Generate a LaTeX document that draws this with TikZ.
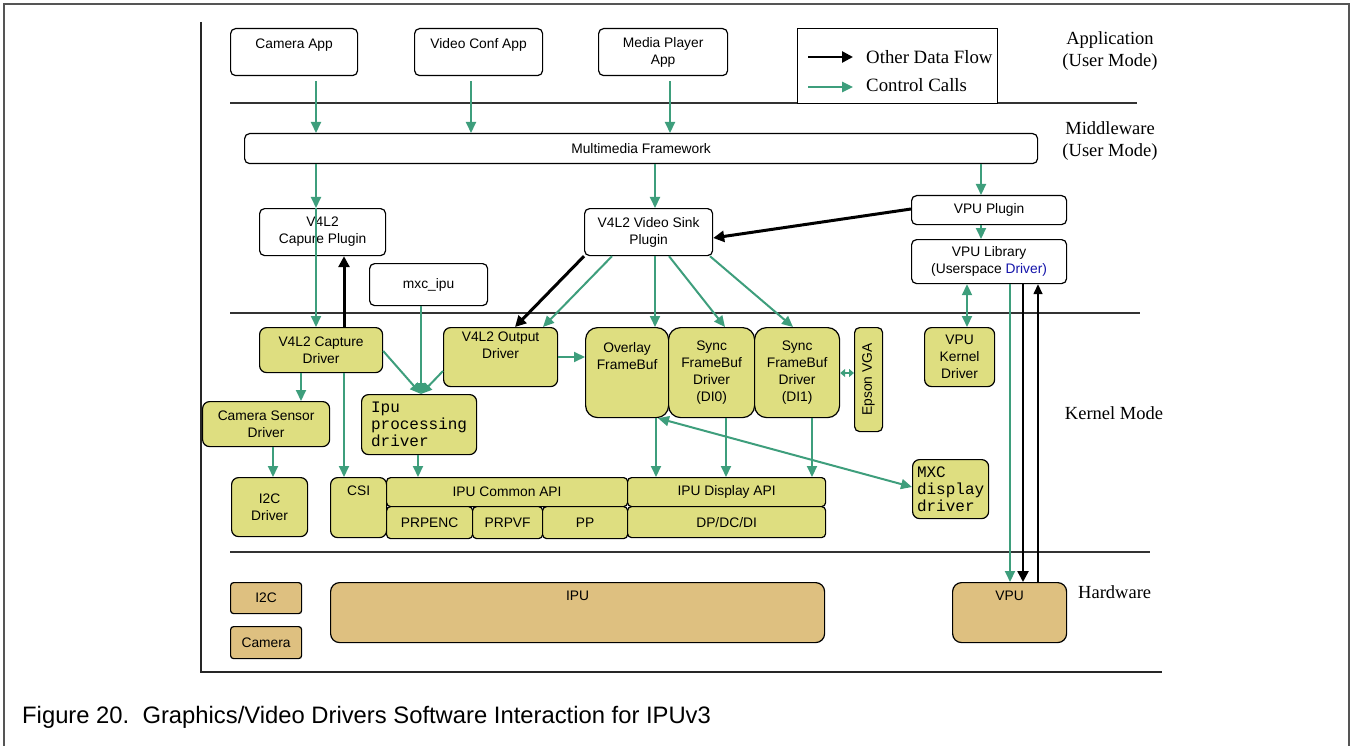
\documentclass[tikz,border=0pt]{standalone}
\usepackage{fontspec}
\usetikzlibrary{arrows.meta,calc}
\newfontfamily\sansf{Liberation Sans}
\newfontfamily\serf{Liberation Serif}
\newfontfamily\monof{Liberation Mono}
\definecolor{kyellow}{RGB}{222,222,128}
\definecolor{ktan}{RGB}{222,192,128}
\definecolor{kgreen}{RGB}{62,158,124}
\definecolor{kframe}{RGB}{85,85,85}
\definecolor{drvblue}{RGB}{20,20,170}
\tikzset{
  wbox/.style={draw=black,line width=1.2pt,fill=white,rounded corners=5pt,align=center,inner sep=0pt,
    font=\sansf\fontsize{13.8}{17}\selectfont},
  ybox/.style={wbox,fill=kyellow,rounded corners=7pt},
  bigy/.style={ybox,rounded corners=12pt},
  tbox/.style={wbox,fill=ktan,rounded corners=6pt},
  monotext/.style={font=\monof\fontsize{16}{17}\selectfont,align=left},
  garrow/.style={draw=kgreen,line width=2pt,-{Triangle[length=11pt,width=10pt]}},
  gdouble/.style={draw=kgreen,line width=2pt,{Triangle[length=11pt,width=10pt]}-{Triangle[length=11pt,width=10pt]}},
  barrow/.style={draw=black,line width=3pt,-{Triangle[length=11pt,width=11pt]}},
  sepline/.style={draw=black!80,line width=1.5pt},
  sidelabel/.style={font=\serf\fontsize{18.5}{22}\selectfont,align=center,inner sep=0pt},
}
\newcommand\mkbox[7]{\node[#6,anchor=north west,minimum width={(#4)-(#2)},minimum height={(#5)-(#3)}] (#1) at (#2,#3) {#7};}
\begin{document}
\begin{tikzpicture}[x=1pt,y=-1pt]
\useasboundingbox (0,0) rectangle (1351,746);
% frames
\draw[kframe,line width=2.5pt] (4,750) -- (4,4) -- (1349,4) -- (1349,750);
\draw[black!85,line width=1.5pt] (201,22) -- (201,672) -- (1162,672);
% separators
\draw[sepline] (230,103) -- (1137,103);
\draw[sepline] (230,313) -- (1140,313);
\draw[sepline] (230,552) -- (1150,552);
% side labels
\node[sidelabel] (lapp) at (1110,51) {Application\\(User Mode)};
\node[sidelabel] (lmw) at (1110,141) {Middleware\\(User Mode)};
\node[sidelabel] (lker) at (1114,413) {Kernel Mode};
\node[sidelabel,anchor=west] (lhw) at (1078,592) {Hardware};
% legend
\mkbox{legend}{797}{28}{997}{103}{wbox,rounded corners=0pt}{}
\coordinate (l1a) at (808,57); \coordinate (l1b) at (853,57);
\coordinate (l2a) at (808,87); \coordinate (l2b) at (853,87);
\draw[barrow,line width=2.5pt] (l1a) -- (l1b);
\draw[garrow,line width=2.5pt] (l2a) -- (l2b);
\node[sidelabel,anchor=west,font=\serf\fontsize{18.8}{22}\selectfont] (t1) at (866,57) {Other Data Flow};
\node[sidelabel,anchor=west,font=\serf\fontsize{18.8}{22}\selectfont] (t2) at (866,85) {Control Calls};
% applications
\mkbox{camapp}{230}{28}{357}{75}{wbox}{Camera App\\~}
\mkbox{vidapp}{414}{28}{542}{75}{wbox}{Video Conf App\\~}
\mkbox{mpapp}{598}{28}{727}{75}{wbox}{Media Player\\App}
% middleware
\mkbox{fw}{244}{133}{1037}{163}{wbox}{Multimedia Framework}
\mkbox{capplug}{259}{208}{385}{255}{wbox}{V4L2\\Capure Plugin}
\mkbox{sink}{584}{208}{712}{255}{wbox}{V4L2 Video Sink\\Plugin}
\mkbox{vpuplug}{911}{195}{1066}{224}{wbox}{VPU Plugin}
\mkbox{vpulib}{911}{239}{1066}{283}{wbox}{VPU Library\\(Userspace \textcolor{drvblue}{Driver)}}
\mkbox{mxcipu}{369}{263}{487}{305}{wbox}{mxc\_ipu}
% kernel
\mkbox{capdrv}{259}{327}{382}{372}{ybox}{V4L2 Capture\\Driver}
\mkbox{outdrv}{443}{327}{557}{386}{ybox}{V4L2 Output\\Driver\\[6pt]}
\mkbox{overlay}{585}{327}{668}{417}{bigy}{Overlay\\FrameBuf\\~\\~}
\mkbox{di0}{668}{327}{754}{417}{bigy}{Sync\\FrameBuf\\Driver\\(DI0)}
\mkbox{di1}{754}{327}{839}{417}{bigy}{Sync\\FrameBuf\\Driver\\(DI1)}
\mkbox{epson}{854}{327}{882}{431}{ybox,rounded corners=5pt}{\rotatebox{90}{Epson VGA}}
\mkbox{vpukd}{924}{327}{994}{386}{ybox}{VPU\\Kernel\\Driver}
\mkbox{camsens}{202}{401}{329}{446}{ybox}{Camera Sensor\\Driver}
\mkbox{ipuproc}{361}{394}{476}{454}{ybox,monotext}{Ipu\\processing\\driver}
\mkbox{i2cdrv}{231}{477}{307}{536}{ybox}{I2C\\Driver}
\mkbox{csi}{330}{477}{386}{537}{ybox}{CSI\\~\\~}
\mkbox{ipucom}{386}{477}{627}{506}{ybox,rounded corners=4pt}{IPU Common API}
\mkbox{prpenc}{386}{506}{472}{538}{ybox,rounded corners=4pt}{PRPENC}
\mkbox{prpvf}{472}{506}{542}{538}{ybox,rounded corners=4pt}{PRPVF}
\mkbox{pp}{542}{506}{627}{538}{ybox,rounded corners=4pt}{PP}
\mkbox{ipudisp}{627}{477}{825}{506}{ybox,rounded corners=4pt}{IPU Display API}
\mkbox{dpdcdi}{627}{506}{825}{537}{ybox,rounded corners=4pt}{DP/DC/DI}
\mkbox{mxc}{912}{459}{988}{518}{ybox,monotext}{MXC\\display\\driver}
% hardware
\mkbox{i2c}{230}{582}{301}{613}{tbox,rounded corners=3pt}{I2C}
\mkbox{camera}{230}{626}{301}{658}{tbox,rounded corners=3pt}{Camera}
\mkbox{ipu}{330}{582}{824}{642}{tbox,rounded corners=9pt}{IPU\\~\\~}
\mkbox{vpu}{952}{582}{1066}{642}{tbox,rounded corners=9pt}{VPU\\~\\~}
% green control arrows
\draw[garrow,shorten <=5pt] (camapp.south -| 316,0) -- (fw.north -| 316,0);
\draw[garrow,shorten <=5pt] (vidapp.south -| 471,0) -- (fw.north -| 471,0);
\draw[garrow,shorten <=5pt] (mpapp.south -| 670,0) -- (fw.north -| 670,0);
\draw[garrow] (fw.south -| 316,0) -- (capplug.north -| 316,0);
\draw[garrow] (fw.south -| 655,0) -- (sink.north -| 655,0);
\draw[garrow] (fw.south -| 981,0) -- (vpuplug.north -| 981,0);
\draw[garrow] (capplug.north -| 316,0) -- (capdrv.north -| 316,0);
\draw[garrow] (vpuplug.south -| 981,0) -- (vpulib.north -| 981,0);
\draw[gdouble] (vpulib.south -| 967,0) -- (vpukd.north -| 967,0);
\draw[garrow] (vpulib.south -| 1010,0) -- (vpu.north -| 1010,0);
\draw[garrow] (mxcipu.south -| 421,0) -- (ipuproc.north -| 421,0);
\draw[garrow] (capdrv.east |- 0,351) -- (ipuproc.north -| 421,0);
\draw[garrow] (outdrv.west |- 0,371) -- (ipuproc.north -| 421,0);
\draw[garrow] (sink.south -| 612,0) -- (outdrv.north -| 543,0);
\draw[garrow] (outdrv.east |- 0,357) -- (overlay.west |- 0,357);
\draw[garrow] (sink.south -| 655,0) -- (overlay.north -| 655,0);
\draw[garrow] (sink.south -| 669,0) -- (di0.north -| 725,0);
\draw[garrow] (sink.south -| 710,0) -- (di1.north -| 793,0);
\draw[draw=kgreen,line width=2pt,{Triangle[length=5pt,width=8pt]}-{Triangle[length=5pt,width=8pt]}] (di1.east |- 0,373) -- (epson.west |- 0,373);
\draw[garrow] (capdrv.south -| 301,0) -- (camsens.north -| 301,0);
\draw[garrow] (capdrv.south -| 344,0) -- (csi.north -| 344,0);
\draw[garrow] (camsens.south -| 273,0) -- (i2cdrv.north -| 273,0);
\draw[garrow] (ipuproc.south -| 418,0) -- (ipucom.north -| 418,0);
\draw[garrow] (overlay.south -| 656,0) -- (ipudisp.north -| 656,0);
\draw[garrow] (di0.south -| 726,0) -- (ipudisp.north -| 726,0);
\draw[garrow] (di1.south -| 812,0) -- (ipudisp.north -| 812,0);
\draw[gdouble] (overlay.south -| 658,0) -- (mxc.west |- 0,487);
% black data-flow arrows
\draw[barrow] (capdrv.north -| 344,0) -- (capplug.south -| 344,0);
\draw[barrow] (sink.south west) -- (outdrv.north -| 515,0);
\draw[barrow] (vpuplug.west |- 0,209) -- (sink.east |- 0,238);
\draw[barrow,line width=2.5pt] (vpulib.south -| 1023,0) -- (vpu.north -| 1023,0);
\draw[barrow,line width=1.5pt,-{Triangle[length=10pt,width=9pt]}] (vpu.north -| 1038,0) -- (vpulib.south -| 1038,0);
% caption
\node[anchor=west,inner sep=0pt,font=\sansf\fontsize{23.8}{26}\selectfont] (caption) at (22,717) {Figure 20.\ \ Graphics/Video Drivers Software Interaction for IPUv3};
\end{tikzpicture}
\end{document}
